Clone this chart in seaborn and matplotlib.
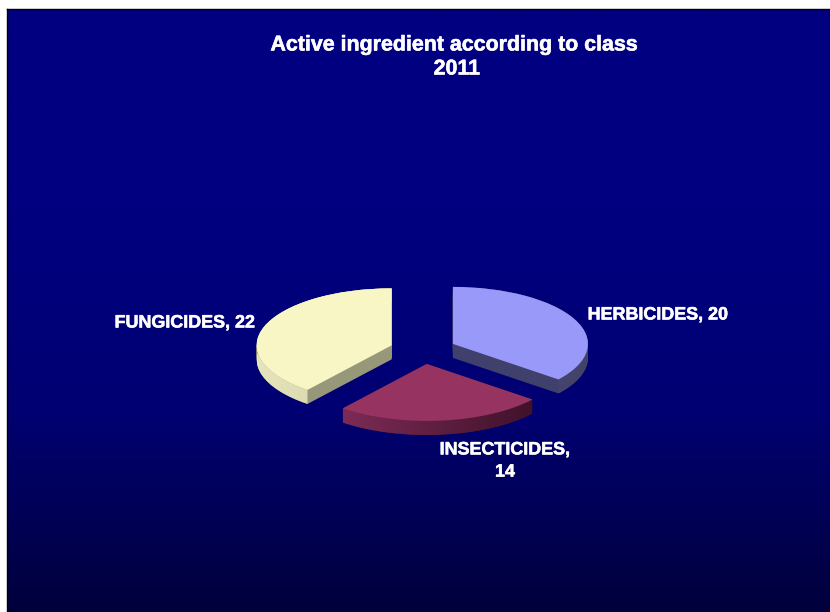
import numpy as np
import matplotlib
matplotlib.use('Agg')
import matplotlib.pyplot as plt
import matplotlib.patheffects as pe
from matplotlib.path import Path
from matplotlib.patches import PathPatch
import seaborn as sns

# Values from the chart
classes = ['HERBICIDES', 'INSECTICIDES', 'FUNGICIDES']
amounts = [20, 14, 22]
label_breaks = [', ', ',\n', ', ']
title_lines = ['Active ingredient according to class', '2011']

top_colors = ['#9999FA', '#963360', '#F8F6C4']
face_colors = ['#40406C', '#5A1E3C', '#97977A']
rim_ramps = [['#45457C', '#43436A'], ['#7C2B56', '#40122A'], ['#E6E4BA', '#CFCDA2']]
bg_ramp = ['#000080', '#000080', '#000072', '#00003C']

W, H = 830, 612
CX, CY = 423, 350      # pie centre, pixels
RX, RY = 135, 57       # squashed radius, pixels
DEPTH = 14 / RY
EXPLODE = 0.246

sns.set_theme(style='white')
plt.rcParams['font.family'] = ['Liberation Sans', 'DejaVu Sans']

fig = plt.figure(figsize=(W / 100, H / 100), dpi=100, facecolor='white')

# Background gradient
bg = fig.add_axes([7 / W, 0, 1 - 7 / W, 1 - 8.5 / H])
bg_cmap = sns.blend_palette(bg_ramp, as_cmap=True)
bg.imshow(np.linspace(0, 1, 256).reshape(-1, 1), cmap=bg_cmap, aspect='auto')
bg.set_xticks([])
bg.set_yticks([])
for s in bg.spines.values():
    s.set_color('black')
    s.set_linewidth(1)

ax = fig.add_axes([0, 0, 1, 1])
ax.patch.set_alpha(0)
explode = [EXPLODE] * len(amounts)


def rim_path(wedge, depth):
    t = np.radians(np.linspace(wedge.theta1, wedge.theta2, 80))
    cx, cy = wedge.center
    x = cx + wedge.r * np.cos(t)
    y = cy + wedge.r * np.sin(t)
    xs = np.r_[x, x[::-1], x[0]]
    ys = np.r_[y, y[::-1] - depth, y[0]]
    return Path(np.c_[xs, ys])


# Side walls, stacked from the bottom up
for step in np.linspace(DEPTH, 0, 16):
    ax.pie(amounts, explode=explode, colors=face_colors, startangle=90,
           counterclock=False, center=(0, -step), wedgeprops={'linewidth': 0})

# Top faces
wedges, _ = ax.pie(amounts, explode=explode, colors=top_colors, startangle=90,
                   counterclock=False, wedgeprops={'linewidth': 0})

# Outer rim gradient
for wedge, ramp in zip(wedges, rim_ramps):
    wedge.set_zorder(3)
    path = rim_path(wedge, DEPTH)
    box = path.get_extents()
    im = ax.imshow(np.linspace(0, 1, 128).reshape(1, -1),
                   cmap=sns.blend_palette(ramp, as_cmap=True), aspect='auto',
                   extent=[box.x0, box.x1, box.y0, box.y1], zorder=2)
    clip = PathPatch(path, transform=ax.transData, facecolor='none', edgecolor='none')
    ax.add_patch(clip)
    im.set_clip_path(clip)

ax.set_aspect('auto')
ax.set_xlim(-CX / RX, (W - CX) / RX)
ax.set_ylim((CY - H) / RY, CY / RY)
ax.axis('off')

# Text, slightly thickened to match the heavier bold
heavy = [pe.withStroke(linewidth=0.4, foreground='white')]
fig.text(454.5 / W, 1 - 45 / H, title_lines[0], color='white', fontsize=15.4,
         fontweight='bold', ha='center', va='center', path_effects=heavy)
fig.text(457 / W, 1 - 69 / H, title_lines[1], color='white', fontsize=15.4,
         fontweight='bold', ha='center', va='center', path_effects=heavy)

label_xy = [(658, 315), (505, 461), (185, 323)]
for name, amount, sep, (px, py) in zip(classes, amounts, label_breaks, label_xy):
    fig.text(px / W, 1 - py / H, f'{name}{sep}{amount}', color='white', fontsize=12.9,
             fontweight='bold', ha='center', va='center', linespacing=1.4,
             path_effects=heavy)

fig.savefig('out.png', dpi=100, facecolor='white')
